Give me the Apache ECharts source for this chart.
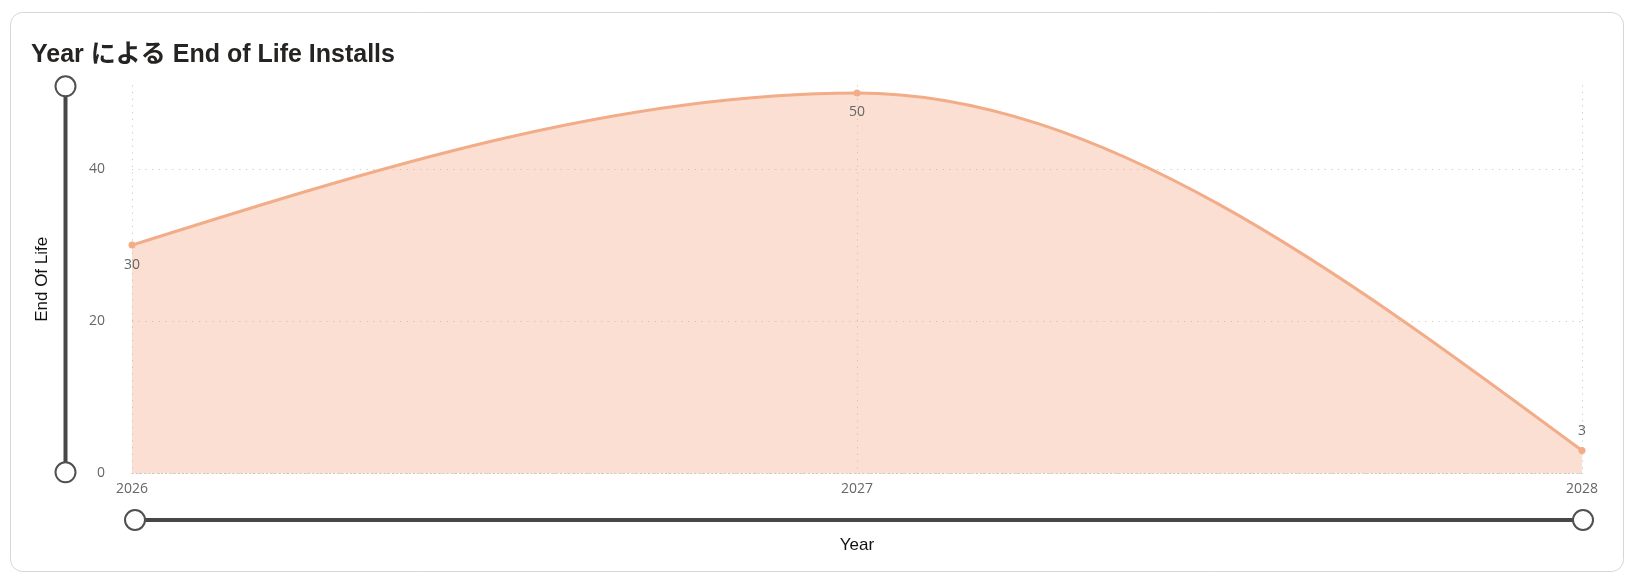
<!DOCTYPE html>
<html><head><meta charset="utf-8">
<script src="https://cdn.jsdelivr.net/npm/echarts@6/dist/echarts.min.js"></script>
<style>html,body{margin:0;padding:0;background:#fff}#c{width:1634px;height:576px}</style>
</head><body><div id="c"></div>
<script>
const categories = ['2026', '2027', '2028'];
const endOfLife = [30, 50, 3];
const yTicks = [0, 20, 40];
const titleText = 'Year による End of Life Installs';
const yName = 'End Of Life';
const xName = 'Year';

const chart = echarts.init(document.getElementById('c'));
const labelFont = "'Open Sans', 'Noto Sans', sans-serif";
const nameFont = "'Liberation Sans', Arial, sans-serif";
const lineColor = '#F2AC88';

// monotone-x cubic (like d3.curveMonotoneX) through pixel points
function monotonePath(pts) {
  const n = pts.length;
  if (n < 2) return '';
  if (n === 2) return `M${pts[0][0]},${pts[0][1]}L${pts[1][0]},${pts[1][1]}`;
  const h = [], s = [], m = new Array(n);
  for (let i = 0; i < n - 1; i++) {
    h.push(pts[i + 1][0] - pts[i][0]);
    s.push((pts[i + 1][1] - pts[i][1]) / h[i]);
  }
  for (let i = 1; i < n - 1; i++) {
    const p = (s[i - 1] * h[i] + s[i] * h[i - 1]) / (h[i - 1] + h[i]);
    m[i] = (Math.sign(s[i - 1]) + Math.sign(s[i])) * Math.min(Math.abs(s[i - 1]), Math.abs(s[i]), 0.5 * Math.abs(p)) || 0;
  }
  m[0] = (3 * s[0] - m[1]) / 2;
  m[n - 1] = (3 * s[n - 2] - m[n - 2]) / 2;
  let d = `M${pts[0][0]},${pts[0][1]}`;
  for (let i = 0; i < n - 1; i++) {
    const dx = h[i] / 3;
    d += `C${pts[i][0] + dx},${pts[i][1] + dx * m[i]},${pts[i + 1][0] - dx},${pts[i + 1][1] - dx * m[i + 1]},${pts[i + 1][0]},${pts[i + 1][1]}`;
  }
  return d;
}

const sliderBase = {
  type: 'slider', backgroundColor: 'transparent', borderColor: 'transparent',
  fillerColor: '#474747', showDataShadow: false, showDetail: false,
  dataBackground: {lineStyle: {opacity: 0}, areaStyle: {opacity: 0}},
  selectedDataBackground: {lineStyle: {opacity: 0}, areaStyle: {opacity: 0}},
  handleIcon: 'circle', handleSize: 20,
  handleStyle: {color: '#fff', borderColor: '#505050', borderWidth: 2},
  emphasis: {handleStyle: {color: '#fff', borderColor: '#505050', borderWidth: 2}},
  moveHandleSize: 0, brushSelect: false, filterMode: 'none', start: 0, end: 100
};
const gridLine = {show: true, lineStyle: {color: '#c9c9c9', type: [1.2, 5.5], width: 1}};

chart.setOption({
  animation: false,
  graphic: [{type: 'rect', shape: {x: 10.5, y: 12.5, width: 1613, height: 559, r: 12},
    style: {fill: '#fff', stroke: '#d6d6d6', lineWidth: 1}, z: -10}],
  title: {text: titleText, left: 26, top: 38,
    textStyle: {fontFamily: "'Liberation Sans', 'Noto Sans CJK JP', sans-serif", fontSize: 25, fontWeight: 'bold', color: '#252423'}},
  grid: {left: 132, right: 52, top: 85.3, bottom: 102.7, containLabel: false},
  xAxis: {type: 'category', data: categories, boundaryGap: false,
    name: xName, nameLocation: 'middle', nameGap: 64,
    nameTextStyle: {fontFamily: nameFont, fontSize: 17, color: '#111'},
    axisLine: {show: true, lineStyle: {color: '#c9c9c9', type: [1.2, 3]}},
    axisTick: {show: false},
    axisLabel: {fontFamily: labelFont, fontSize: 14, color: '#666', margin: 9},
    splitLine: gridLine},
  yAxis: {type: 'value', min: 0, max: 51, interval: 20,
    name: yName, nameLocation: 'middle', nameGap: 81, nameRotate: 90,
    nameTextStyle: {fontFamily: nameFont, fontSize: 17, color: '#111'},
    axisLine: {show: false}, axisTick: {show: false},
    axisLabel: {fontFamily: labelFont, fontSize: 14, color: '#666', margin: 27, showMaxLabel: false,
      formatter: v => yTicks.includes(v) ? String(v) : ''},
    splitLine: Object.assign({showMaxLine: false}, gridLine)},
  dataZoom: [
    Object.assign({}, sliderBase, {xAxisIndex: 0, left: 132, right: 52, top: 518, height: 4}),
    Object.assign({}, sliderBase, {yAxisIndex: 0, orient: 'vertical', left: 62.5, width: 4, top: 85.3, bottom: 102.7})
  ],
  series: [
    {type: 'custom', coordinateSystem: 'cartesian2d', data: [0], z: 1, silent: true,
      renderItem: function (params, api) {
        const pts = categories.map((c, i) => api.coord([i, endOfLife[i]]));
        const base0 = api.coord([0, 0]);
        const baseN = api.coord([categories.length - 1, 0]);
        const line = monotonePath(pts);
        const area = line + `L${baseN[0]},${baseN[1]}L${base0[0]},${base0[1]}Z`;
        return {type: 'group', children: [
          {type: 'path', shape: {pathData: area}, style: {fill: 'rgba(242,172,136,0.38)', stroke: null}},
          {type: 'path', shape: {pathData: line}, style: {fill: null, stroke: lineColor, lineWidth: 3}}
        ]};
      }},
    {type: 'line', z: 3, symbol: 'circle', symbolSize: 7,
      itemStyle: {color: lineColor},
      lineStyle: {width: 0, opacity: 0},
      label: {show: true, fontFamily: labelFont, fontSize: 14, color: '#666', distance: 9},
      data: endOfLife.map((v, i) => ({value: v, label: {position: i === endOfLife.length - 1 ? 'top' : 'bottom'}}))
    }]
});
</script></body></html>
